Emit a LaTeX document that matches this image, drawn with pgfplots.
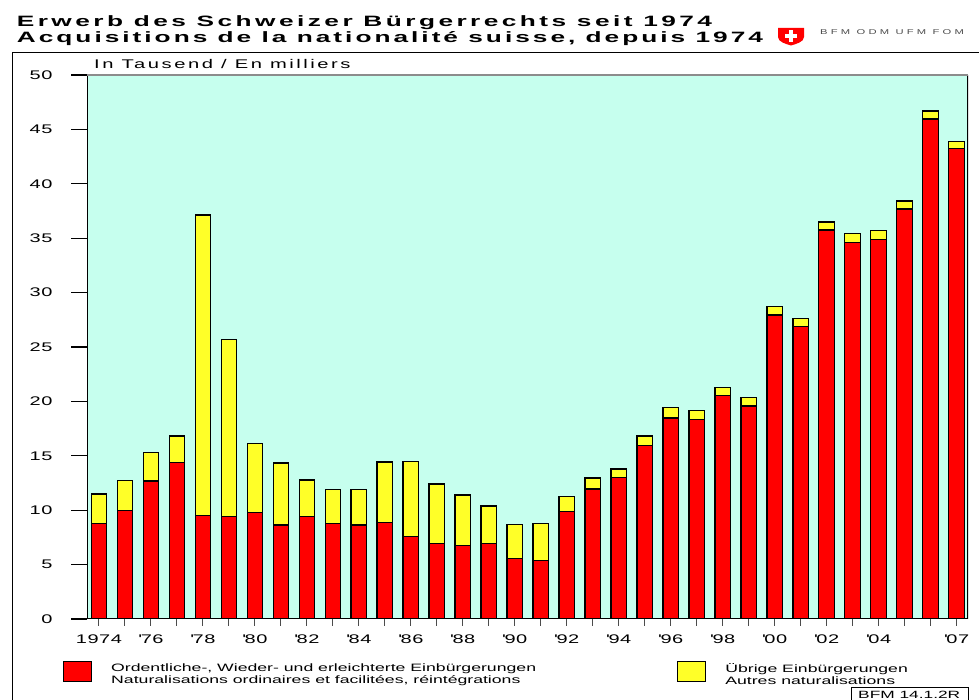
\documentclass[border=0pt]{standalone}
\usepackage{fontspec}
\usepackage{pgfplots}
\usepackage{pgfplotstable}
\pgfplotsset{compat=1.18}
\setmainfont{Liberation Sans}
\newfontfamily\wf{Liberation Sans}[FakeStretch=1.65]
\newfontfamily\tickf{Liberation Sans}[FakeStretch=1.6,LetterSpace=4]
\newfontfamily\titlef{Liberation Sans Bold}[FakeStretch=1.75,LetterSpace=20]
\newfontfamily\titlefa{Liberation Sans Bold}[FakeStretch=1.75,LetterSpace=23]
\newfontfamily\unitf{Liberation Sans}[FakeStretch=1.6,LetterSpace=20]
\newfontfamily\logof{Liberation Sans}[FakeStretch=1.6,LetterSpace=46]
\definecolor{bgc}{RGB}{198,255,238}
\definecolor{yel}{RGB}{255,255,40}

\pgfplotstableread{
x red yellow
0 8.79 2.70
1 9.96 2.75
2 12.68 2.64
3 14.40 2.42
4 9.50 27.63
5 9.44 16.26
6 9.80 6.32
7 8.64 5.70
8 9.41 3.37
9 8.76 3.13
10 8.64 3.25
11 8.85 5.58
12 7.60 6.86
13 6.96 5.45
14 6.74 4.66
15 6.93 3.46
16 5.54 3.16
17 5.39 3.40
18 9.89 1.35
19 11.95 1.01
20 12.99 0.80
21 15.93 0.89
22 18.47 0.95
23 18.35 0.83
24 20.53 0.76
25 19.58 0.79
26 27.94 0.80
27 26.87 0.73
28 35.75 0.74
29 34.62 0.80
30 34.90 0.79
31 37.68 0.74
32 45.96 0.73
33 43.26 0.64
}\data

\begin{document}
\begin{tikzpicture}
\useasboundingbox (0pt,0pt) rectangle (979pt,700pt);
% frame
\draw[line width=1.3pt] (12.7pt,-5pt) -- (12.7pt,647.3pt) -- (990pt,647.3pt);
% titles
\node[anchor=base west, inner sep=0pt] at (16.7pt,673.3pt) {\fontsize{15}{17}\selectfont\titlefa Erwerb des Schweizer Bürgerrechts seit 1974};
\node[anchor=base west, inner sep=0pt] at (16.7pt,657.7pt) {\fontsize{15}{17}\selectfont\titlef Acquisitions de la nationalité suisse, depuis 1974};
% logo
\fill[red] (778pt,672pt) -- (804pt,672pt) -- (804pt,663pt) .. controls (804pt,658pt) and (796pt,656pt) .. (791pt,654.5pt) .. controls (786pt,656pt) and (778pt,658pt) .. (778pt,663pt) -- cycle;
\fill[white] (789pt,657.5pt) rectangle (793pt,669.5pt);
\fill[white] (785pt,661.5pt) rectangle (797pt,665.5pt);
\node[anchor=base west, inner sep=0pt, text=black!70] at (820pt,665pt) {\fontsize{7}{8}\selectfont\logof BFM ODM UFM FOM};
% unit
\node[anchor=base west, inner sep=0pt] at (94pt,631.7pt) {\fontsize{12.6}{14}\selectfont\unitf In Tausend / En milliers};
% reference box
\draw[line width=1pt] (851pt,-5pt) rectangle (968pt,12pt);
\node[anchor=base west, inner sep=0pt] at (858pt,1pt) {\fontsize{10.5}{12}\selectfont\wf BFM 14.1.2R};

\begin{axis}[
  at={(87pt,81pt)}, anchor=south west,
  scale only axis, width=881pt, height=544pt,
  xmin=-0.46, xmax=33.44, ymin=0, ymax=50,
  ybar stacked, bar width=15.5pt,
  axis background/.style={fill=bgc},
  axis line style={draw=none},
  tick align=outside,
  xtick pos=bottom, ytick pos=left,
  xtick={0,...,33},
  minor xtick={0,...,33},
  xticklabels={1974,,\textquotesingle76,,\textquotesingle78,,\textquotesingle80,,\textquotesingle82,,\textquotesingle84,,\textquotesingle86,,\textquotesingle88,,\textquotesingle90,,\textquotesingle92,,\textquotesingle94,,\textquotesingle96,,\textquotesingle98,,\textquotesingle00,,\textquotesingle02,,\textquotesingle04,,,\textquotesingle07},
  ytick={0,5,...,50},
  /pgf/number format/assume math mode=true,
  major tick length=16pt,
  minor tick length=7pt,
  major x tick style={draw=none},
  minor x tick style={draw=black!70, line width=1pt},
  ytick style={draw=black, line width=1.2pt},
  xticklabel style={font=\fontsize{12.5}{14}\selectfont\tickf, yshift=4pt},
  yticklabel style={font=\fontsize{12.5}{14}\selectfont\tickf, xshift=-15pt},
  legend columns=2,
  legend image code/.code={\draw[#1,line width=1.2pt] (0pt,-7pt) rectangle (28pt,13pt);},
  legend style={at={(-0.0272,-0.0774)}, anchor=north west, draw=none, fill=none,
    inner sep=0pt, outer sep=0pt,
    font=\fontsize{10.7}{12}\selectfont\wf,
    cells={anchor=west, align=left},
    /tikz/every odd column/.append style={column sep=17pt},
    /tikz/every even column/.append style={column sep=139pt}},
]
\addplot[fill=red, draw=black, line width=1.2pt] table[x=x,y=red]{\data};
\addlegendentry{Ordentliche-, Wieder- und erleichterte Einbürgerungen\\Naturalisations ordinaires et facilitées, réintégrations}
\addplot[fill=yel, draw=black, line width=1.2pt] table[x=x,y=yellow]{\data};
\addlegendentry{Übrige Einbürgerungen\\Autres naturalisations}
\draw[black!45, line width=1.2pt] (rel axis cs:0,1) -- (rel axis cs:1,1);
\draw[black, line width=1.6pt] (rel axis cs:0,0) -- (rel axis cs:0,1);
\draw[black, line width=1.6pt] (rel axis cs:0,0) -- (rel axis cs:1,0);
\draw[black, line width=2pt] (rel axis cs:1,0) -- (rel axis cs:1,1);
\end{axis}
\end{tikzpicture}
\end{document}
